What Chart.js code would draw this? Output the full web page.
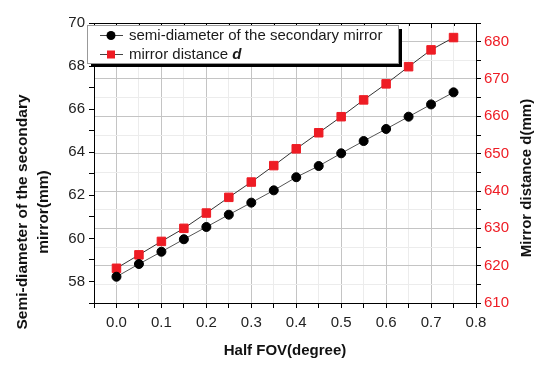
<!DOCTYPE html>
<html>
<head>
<meta charset="utf-8">
<script src="https://cdn.jsdelivr.net/npm/chart.js@4/dist/chart.umd.min.js"></script>
<style>
  body { margin: 0; background: #fff; }
  canvas { display: block; }
</style>
</head>
<body>
<canvas id="chart" width="550" height="370"></canvas>
<script>
// values
var halfFov = [0, 0.05, 0.1, 0.15, 0.2, 0.25, 0.3, 0.35, 0.4, 0.45, 0.5, 0.55, 0.6, 0.65, 0.7, 0.75];
var semiDiameter = [58.22, 58.81, 59.38, 59.96, 60.53, 61.10, 61.66, 62.23, 62.84, 63.36, 63.95, 64.52, 65.08, 65.65, 66.22, 66.78];
var mirrorDistance = [619.3, 622.9, 626.5, 630.0, 634.1, 638.3, 642.4, 646.8, 651.3, 655.6, 659.9, 664.4, 668.7, 673.3, 677.8, 681.1];

var seriesLabels = ['semi-diameter of the secondary mirror', 'mirror distance '];
var leftTitle = ['Semi-diameter of the secondary', 'mirror(mm)'];
var rightTitle = 'Mirror distance d(mm)';
var bottomTitle = 'Half FOV(degree)';

var FONT = "'Liberation Sans', Arial, sans-serif";
var RED = '#ee1c24';

function isMult(v, step) {
  var r = Math.round(v * 1000) / 1000;
  return Math.abs(Math.round(r / step) * step - r) < 1e-6;
}

var xy = function(ys) {
  return halfFov.map(function (x, i) { return {x: x, y: ys[i]}; });
};

// frame, legend box and rotated axis titles
var decorPlugin = {
  id: 'decor',
  afterDraw: function(chart) {
    var ctx = chart.ctx, a = chart.chartArea, xs = chart.scales.x;
    ctx.save();
    // top frame + inward ticks
    ctx.strokeStyle = '#000';
    ctx.lineWidth = 1;
    ctx.beginPath();
    ctx.moveTo(a.left, a.top + 0.5);
    ctx.lineTo(a.right, a.top + 0.5);
    for (var v = 0; v <= 0.8001; v += 0.05) {
      var px = Math.round(xs.getPixelForValue(v)) + 0.5;
      ctx.moveTo(px, a.top);
      ctx.lineTo(px, a.top + (isMult(v, 0.1) ? 5 : 3));
    }
    ctx.stroke();

    // legend with shadow
    var lx = 87, ly = 25, lw = 311, lh = 38;
    ctx.fillStyle = '#000';
    ctx.fillRect(lx + 4, ly + 4, lw, lh);
    ctx.fillStyle = '#fff';
    ctx.fillRect(lx, ly, lw, lh);
    ctx.strokeStyle = '#999';
    ctx.strokeRect(lx + 0.5, ly + 0.5, lw, lh);

    var rows = [ly + 10.5, ly + 29.5];
    ctx.strokeStyle = '#444';
    rows.forEach(function (ry) {
      ctx.beginPath();
      ctx.moveTo(100, ry);
      ctx.lineTo(123, ry);
      ctx.stroke();
    });
    ctx.fillStyle = '#000';
    ctx.beginPath();
    ctx.arc(111, rows[0], 4.5, 0, Math.PI * 2);
    ctx.fill();
    ctx.fillStyle = RED;
    ctx.fillRect(107, rows[1] - 4, 8, 8);

    ctx.fillStyle = '#1a1a1a';
    ctx.textBaseline = 'middle';
    ctx.textAlign = 'left';
    ctx.font = '15px ' + FONT;
    ctx.fillText(seriesLabels[0], 129, rows[0]);
    ctx.fillText(seriesLabels[1], 129, rows[1]);
    var w = ctx.measureText(seriesLabels[1]).width;
    ctx.font = 'italic bold 15px ' + FONT;
    ctx.fillText('d', 129 + w, rows[1]);

    // left title (two lines) and right title, both reading bottom to top
    ctx.fillStyle = '#111';
    ctx.textAlign = 'center';
    ctx.font = 'bold 15.5px ' + FONT;
    ctx.translate(23, 212);
    ctx.rotate(-Math.PI / 2);
    ctx.fillText(leftTitle[0], 0, 0);
    ctx.fillText(leftTitle[1], 0, 21);
    ctx.setTransform(1, 0, 0, 1, 0, 0);
    ctx.font = 'bold 15px ' + FONT;
    ctx.translate(527, 178);
    ctx.rotate(-Math.PI / 2);
    ctx.fillText(rightTitle, 0, 0);
    ctx.restore();
  }
};

var ctx = document.getElementById('chart').getContext('2d');
var chart = new Chart(ctx, {
  type: 'scatter',
  data: {
    datasets: [
      {
        label: seriesLabels[0],
        data: xy(semiDiameter),
        yAxisID: 'y',
        showLine: true,
        borderColor: '#555',
        borderWidth: 1,
        pointStyle: 'circle',
        pointRadius: 4.5,
        pointBackgroundColor: '#000',
        pointBorderColor: '#000',
        pointBorderWidth: 1
      },
      {
        label: seriesLabels[1] + 'd',
        data: xy(mirrorDistance),
        yAxisID: 'y1',
        showLine: true,
        borderColor: '#333',
        borderWidth: 1,
        pointStyle: 'rect',
        pointRadius: 6,
        pointBackgroundColor: RED,
        pointBorderColor: RED,
        pointBorderWidth: 1
      }
    ]
  },
  options: {
    responsive: false,
    animation: false,
    layout: { padding: { top: 23, left: 0, right: 0, bottom: 0 } },
    plugins: {
      legend: { display: false },
      tooltip: { enabled: false }
    },
    scales: {
      x: {
        type: 'linear',
        min: -0.05,
        max: 0.8,
        afterFit: function (s) { s.height = 67; },
        ticks: {
          stepSize: 0.05,
          padding: 6,
          color: '#222',
          font: { family: FONT, size: 15 },
          maxRotation: 0,
          autoSkip: false,
          callback: function (v) {
            return (v >= -1e-6 && isMult(v, 0.1)) ? v.toFixed(1) : '';
          }
        },
        grid: {
          color: function (c) {
            return isMult(c.tick.value, 0.1) ? '#c4c4c4' : '#ececec';
          },
          tickColor: '#000',
          tickLength: 5
        },
        border: { color: '#000', width: 1 },
        title: {
          display: true,
          text: bottomTitle,
          color: '#111',
          font: { family: FONT, size: 15, weight: 'bold' },
          padding: { top: 0, bottom: 10 }
        }
      },
      y: {
        position: 'left',
        min: 57,
        max: 70,
        afterFit: function (s) { s.width = 94; },
        ticks: {
          stepSize: 1,
          padding: 4,
          color: '#222',
          font: { family: FONT, size: 15 },
          autoSkip: false,
          callback: function (v) { return v % 2 === 0 ? v : ''; }
        },
        grid: {
          drawOnChartArea: false,
          tickColor: '#000',
          tickLength: 5
        },
        border: { color: '#000', width: 1 }
      },
      y1: {
        position: 'right',
        min: 610,
        max: 685,
        afterFit: function (s) { s.width = 74; },
        ticks: {
          stepSize: 5,
          padding: 3,
          color: RED,
          font: { family: FONT, size: 15 },
          autoSkip: false,
          callback: function (v) { return v % 10 === 0 ? v : ''; }
        },
        grid: {
          color: function (c) {
            return c.tick.value % 10 === 0 ? '#c4c4c4' : '#ececec';
          },
          tickColor: '#000',
          tickLength: 5
        },
        border: { color: '#000', width: 1 }
      }
    }
  },
  plugins: [decorPlugin]
});
</script>
</body>
</html>
